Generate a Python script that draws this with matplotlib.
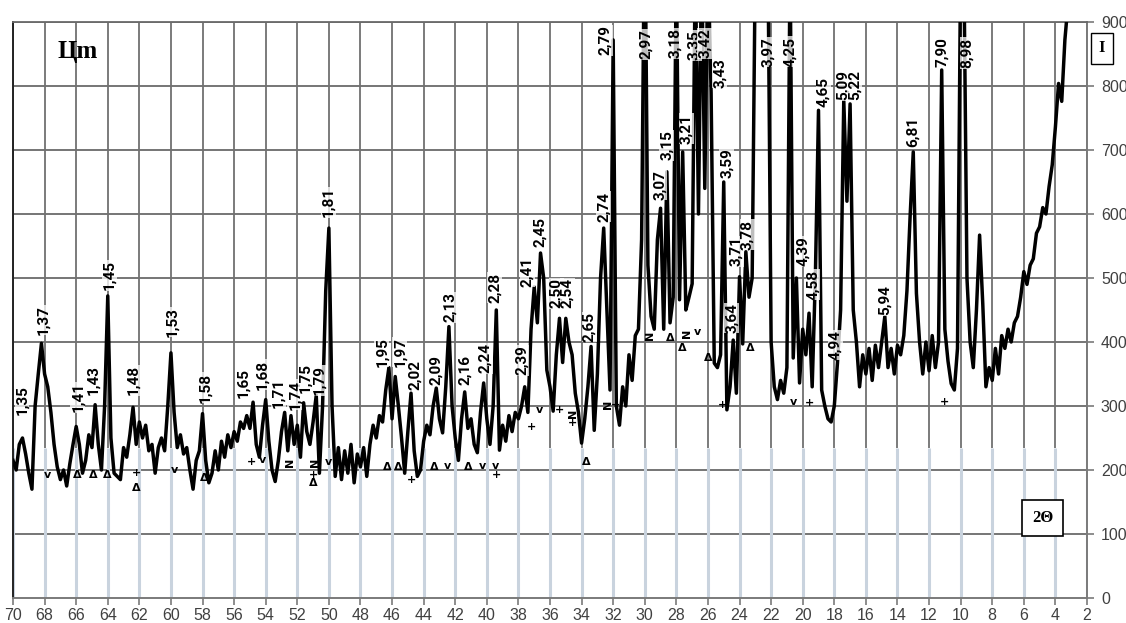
import numpy as np
import matplotlib
matplotlib.use("Agg")
import matplotlib.pyplot as plt

# 2-theta grid of the scan, 70 -> 2 degrees, 0.2 deg step
two_theta = np.round(np.linspace(70, 2, 341), 1)

# intensity, one row = 2 degrees (10 points)
intensity = [
    215, 200, 240, 250, 225, 195, 170, 300, 350, 398,   # 70.0 - 68.2
    350, 330, 290, 240, 205, 185, 200, 175, 210, 240,   # 68.0 - 66.2
    268, 240, 195, 215, 255, 235, 302, 240, 200, 300,   # 66.0 - 64.2
    472, 250, 195, 190, 185, 235, 220, 255, 298, 240,   # 64.0 - 62.2
    275, 250, 270, 230, 240, 195, 235, 250, 230, 300,   # 62.0 - 60.2
    383, 290, 235, 255, 225, 235, 200, 170, 215, 230,   # 60.0 - 58.2
    288, 215, 180, 195, 230, 200, 245, 220, 255, 235,   # 58.0 - 56.2
    260, 245, 275, 265, 285, 265, 306, 240, 220, 270,   # 56.0 - 54.2
    310, 245, 200, 182, 215, 260, 290, 230, 285, 240,   # 54.0 - 52.2
    270, 220, 305, 260, 240, 275, 317, 195, 300, 480,   # 52.0 - 50.2
    578, 300, 190, 235, 185, 230, 195, 240, 180, 225,   # 50.0 - 48.2
    205, 235, 190, 240, 270, 250, 285, 275, 325, 360,   # 48.0 - 46.2
    280, 346, 300, 250, 195, 260, 320, 230, 190, 200,   # 46.0 - 44.2
    245, 270, 255, 300, 328, 280, 258, 330, 424, 300,   # 44.0 - 42.2
    250, 215, 280, 322, 265, 280, 240, 227, 290, 336,   # 42.0 - 40.2
    280, 240, 300, 450, 231, 270, 245, 285, 260, 290,   # 40.0 - 38.2
    280, 300, 330, 290, 420, 486, 430, 539, 500, 356,   # 38.0 - 36.2
    330, 292, 380, 437, 368, 437, 400, 380, 320, 290,   # 36.0 - 34.2
    242, 280, 330, 393, 262, 350, 500, 578, 450, 325,   # 34.0 - 32.2
    872, 300, 270, 330, 300, 380, 340, 410, 420, 560,   # 32.0 - 30.2
    1100, 520, 440, 420, 560, 609, 420, 666, 430, 470,  # 30.0 - 28.2
    1000, 466, 697, 450, 470, 491, 1000, 600, 1000, 640,  # 28.0 - 26.2
    1000, 790, 367, 360, 380, 650, 294, 330, 403, 320,  # 26.0 - 24.2
    502, 397, 541, 470, 500, 1000, 1000, 1000, 1000, 1000,  # 24.0 - 22.2
    400, 330, 310, 340, 320, 360, 1000, 375, 500, 336,  # 22.0 - 20.2
    420, 380, 445, 330, 500, 762, 325, 300, 280, 275,   # 20.0 - 18.2
    300, 367, 450, 778, 620, 772, 450, 400, 330, 380,   # 18.0 - 16.2
    350, 390, 340, 395, 360, 400, 440, 360, 390, 350,   # 16.0 - 14.2
    395, 380, 410, 480, 596, 697, 476, 400, 350, 400,   # 14.0 - 12.2
    355, 410, 360, 400, 825, 420, 370, 335, 325, 390,   # 12.0 - 10.2
    1000, 1000, 500, 400, 360, 450, 567, 460, 330, 360,  # 10.0 - 8.2
    340, 390, 350, 410, 390, 420, 400, 430, 440, 470,   # 8.0 - 6.2
    510, 490, 520, 530, 570, 580, 610, 600, 643, 677,   # 6.0 - 4.2
    736, 804, 776, 872, 930, 980, 1000, 1000, 1000, 1000,  # 4.0 - 2.2
    1000,                                               # 2.0
]

# d-spacing labels (text, 2-theta, bottom of label in counts)
peak_d = ["1,35", "1,37", "1,41", "1,43", "1,45", "1,48", "1,53", "1,58",
          "1,65", "1,68", "1,71", "1,74", "1,75", "1,79", "1,81",
          "1,95", "1,97", "2,02", "2,09", "2,13", "2,16", "2,24", "2,28",
          "2,39", "2,41", "2,45", "2,50", "2,54", "2,65", "2,74", "2,79",
          "2,97", "3,07", "3,15", "3,18", "3,21", "3,35", "3,42", "3,43",
          "3,59", "3,64", "3,71", "3,78", "3,97", "4,25", "4,39", "4,58",
          "4,65", "4,94", "5,09", "5,22", "5,94", "6,81", "7,90", "8,98"]
peak_x = [69.43, 68.1, 65.9, 64.9, 63.9, 62.4, 59.9, 57.8,
          55.4, 54.2, 53.2, 52.15, 51.5, 50.6, 50.05,
          46.65, 45.5, 44.55, 43.2, 42.35, 41.4, 40.1, 39.5,
          37.8, 37.45, 36.65, 35.6, 34.9, 33.5, 32.6, 32.5,
          29.9, 29.05, 28.6, 28.1, 27.35, 26.85, 26.2, 25.25,
          24.8, 24.5, 24.2, 23.5, 22.2, 20.8, 20.0, 19.35,
          18.7, 17.95, 17.45, 16.7, 14.8, 13.05, 11.2, 9.6]
peak_y = [286, 411, 290, 317, 481, 317, 408, 305,
          312, 325, 297, 294, 320, 317, 595,
          361, 361, 325, 333, 431, 333, 351, 461,
          348, 486, 549, 453, 453, 400, 588, 848,
          842, 622, 684, 843, 710, 840, 843, 797,
          656, 414, 518, 544, 830, 830, 518, 466,
          767, 372, 778, 778, 442, 705, 830, 828]

# phase marks under the peaks (symbol, 2-theta, counts)
mark_sym = ["v", "Δ", "Δ", "Δ", "+", "Δ", "v", "Δ", "+", "v", "N", "N", "+", "Δ", "v",
            "Δ", "Δ", "+", "Δ", "v", "Δ", "v", "v", "+", "+", "v", "+", "N", "+",
            "Δ", "N", "+",
            "N", "Δ", "Δ", "N", "v", "Δ", "+", "Δ", "v", "+", "+"]
mark_x = [67.85, 65.95, 64.9, 64.05, 62.2, 62.2, 59.75, 57.9, 54.9, 54.2, 52.45, 50.9, 51.0, 51.0, 50.05,
          46.3, 45.6, 44.75, 43.3, 42.5, 41.2, 40.25, 39.45, 39.4, 37.15, 36.65, 35.4, 34.55, 34.55,
          33.7, 32.35, 31.85,
          29.7, 28.4, 27.6, 27.35, 26.65, 26.0, 25.05, 23.35, 20.6, 19.55, 11.0]
mark_y = [192, 192, 192, 192, 195, 172, 200, 188, 212, 215, 212, 212, 192, 180, 212,
          205, 205, 185, 205, 207, 205, 207, 207, 192, 267, 294, 294, 289, 273,
          212, 302, 302,
          411, 406, 390, 414, 416, 375, 302, 390, 306, 305, 306]

x_ticks = list(range(70, 1, -2))
y_ticks = list(range(0, 1000, 100))

fig = plt.figure(figsize=(11.26, 6.23), dpi=100)
ax = fig.add_axes([13 / 1126, 25 / 623, 1074 / 1126, 576 / 623])

ax.set_xlim(70, 2)
ax.set_ylim(0, 900)

# grid: grey horizontal lines, vertical lines grey above and pale blue below
for yv in y_ticks[1:]:
    ax.axhline(yv, color="#6a6a6a", lw=1.3, zorder=1)
ax.vlines(x_ticks, 0, 235, color="#c9d3de", lw=2.2, zorder=1)
ax.vlines(x_ticks, 235, 900, color="#717171", lw=1.3, zorder=1)

ax.plot(two_theta, intensity, color="black", lw=2.5, zorder=3)

lab_font = ["Liberation Sans Narrow", "Roboto", "DejaVu Sans"]
for t, x, y in zip(peak_d, peak_x, peak_y):
    ax.text(x, y, t, rotation=90, ha="center", va="bottom", fontsize=11,
            fontweight="bold", family=lab_font, zorder=5,
            bbox=dict(facecolor="white", edgecolor="none", alpha=0.75, pad=0.3))

for s, x, y in zip(mark_sym, mark_x, mark_y):
    rot = 90 if s == "N" else 0
    ax.text(x, y, s, ha="center", va="center", fontsize=8, fontweight="bold",
            family=["DejaVu Sans"], rotation=rot, zorder=5)

ax.set_xticks(x_ticks)
ax.set_xticklabels([str(v) for v in x_ticks])
ax.set_yticks(y_ticks)
ax.yaxis.tick_right()
ax.tick_params(axis="both", colors="#7a7a7a", labelcolor="#404040",
               labelsize=11.5, length=5, width=1.2, direction="out")
ax.tick_params(axis="x", pad=2)
ax.tick_params(axis="y", pad=5)
for lab in ax.get_xticklabels() + ax.get_yticklabels():
    lab.set_family(["Liberation Sans", "DejaVu Sans"])

ax.spines["left"].set_color("#222222")
ax.spines["left"].set_linewidth(1.4)
ax.spines["right"].set_color("#7a7a7a")
ax.spines["right"].set_linewidth(1.4)
ax.spines["bottom"].set_color("#7a7a7a")
ax.spines["bottom"].set_linewidth(1.4)
ax.spines["top"].set_color("#6a6a6a")
ax.spines["top"].set_linewidth(1.3)

serif = ["Liberation Serif", "DejaVu Serif"]
fig.text(58 / 1126, 1 - 58 / 623, "Цm", fontsize=18, fontweight="bold",
         family=serif, ha="left", va="baseline")
fig.text(1102 / 1126, 1 - 48 / 623, "I", fontsize=12, fontweight="bold",
         family=serif, ha="center", va="center",
         bbox=dict(facecolor="white", edgecolor="black", lw=1,
                   boxstyle="square,pad=0.45"))
ax.text(4.8, 125, "2Θ", fontsize=12, fontweight="bold", family=serif,
        ha="center", va="center", zorder=6,
        bbox=dict(facecolor="white", edgecolor="black", lw=1.2,
                  boxstyle="square,pad=0.6"))

fig.savefig("out.png", dpi=100)
